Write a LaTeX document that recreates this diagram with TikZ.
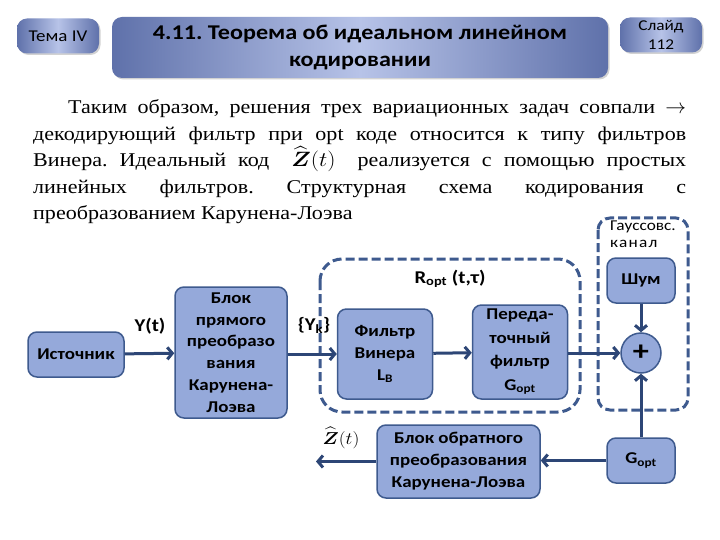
\documentclass[tikz,border=0pt]{standalone}
\usepackage{fontspec}
\usepackage{amsmath,amsbsy,graphicx}
\setmainfont[FakeStretch=1.13]{Liberation Serif}
\newfontfamily\carl[FakeStretch=1.15]{Carlito}
\usetikzlibrary{arrows.meta,shadows}
\definecolor{boxfill}{HTML}{95A9DA}
\definecolor{boxdraw}{HTML}{3E5A8E}
\definecolor{arr}{HTML}{2D4676}
\definecolor{hdark}{HTML}{5F71AA}
\definecolor{hlight}{HTML}{B7C3E8}
\frenchspacing
\newcommand{\zhat}{\scalebox{1.12}[1]{$\widehat{\boldsymbol{Z}}(t)$}}
\tikzset{
  blk/.style={draw=boxdraw, fill=boxfill, line width=1.5pt, rounded corners=9pt,
    font=\carl\bfseries\fontsize{16.5}{21.8}\selectfont, align=center, inner sep=1pt},
  conn/.style={draw=arr, line width=3pt, -{Straight Barb[length=5pt,width=12pt]}},
  grp/.style={draw=boxdraw, line width=3pt, dash pattern=on 9pt off 4pt},
  hdr/.style={rounded corners=10pt, left color=hdark, right color=hdark, middle color=hlight,
    drop shadow={shadow xshift=1.5pt,shadow yshift=-1.5pt,fill=black!35},
    align=center, inner sep=0pt},
  lbl/.style={font=\carl\bfseries\fontsize{18}{20}\selectfont, inner sep=0pt},
  body/.style={anchor=base west, inner sep=0pt, font=\fontsize{19.5}{26}\selectfont}
}
\begin{document}
\begin{tikzpicture}[x=1pt,y=-1pt]
\useasboundingbox[fill=white] (0,0) rectangle (720,540);
% header
\node[hdr, minimum width=82pt, minimum height=35pt, font=\carl\fontsize{16.5}{18}\selectfont] (tema) at (58,36) {Тема IV};
\node[hdr, minimum width=496pt, minimum height=61pt, font=\carl\bfseries\fontsize{21}{27}\selectfont] (title) at (360,47.5) {4.11. Теорема об идеальном линейном\\кодировании};
\node[hdr, minimum width=82pt, minimum height=35pt, font=\carl\fontsize{15}{19}\selectfont] (slide) at (661,35) {Слайд\\112};
% body text
\node[body] (l1) at (68,114) {\makebox[618pt][s]{Таким образом, решения трех вариационных задач совпали $\rightarrow$}};
\node[body] (l2) at (33,141) {\makebox[653pt][s]{декодирующий фильтр при opt коде относится к типу фильтров}};
\node[body] (l3) at (33,167) {\makebox[653pt][s]{Винера. Идеальный код \hspace{10pt}\zhat\hspace{10pt} реализуется с помощью простых}};
\node[body] (l4) at (33,194) {\makebox[653pt][s]{линейных фильтров. Структурная схема кодирования с}};
\node[body] (l5) at (33,220) {преобразованием Карунена-Лоэва};
% groups
\draw[grp, rounded corners=12pt] (598,218) rectangle (688,410);
\node[anchor=north west, align=left, inner sep=0pt, font=\carl\fontsize{15}{17}\selectfont] (gk) at (610,221) {Гауссовс.\\\addfontfeature{LetterSpace=8}канал};
\draw[grp, rounded corners=22pt] (320,259) rectangle (580,412);
\node[lbl] (ropt) at (450,279) {R\textsubscript{opt} (t,τ)};
% blocks
\node[blk, minimum width=96pt, minimum height=45pt] (src) at (76,354.5) {Источник};
\node[blk, minimum width=112pt, minimum height=131pt] (kl) at (231,352.5) {Блок\\прямого\\преобразо\\вания\\Карунена-\\Лоэва};
\node[blk, minimum width=95pt, minimum height=90pt] (wf) at (385,354) {Фильтр\\Винера\\L\textsubscript{В}};
\node[blk, minimum width=95pt, minimum height=94pt, font=\carl\bfseries\fontsize{16.5}{23.5}\selectfont] (tf) at (520,352) {Переда-\\точный\\фильтр\\G\textsubscript{opt}};
\node[blk, minimum width=68pt, minimum height=45pt] (noise) at (641,280.5) {Шум};
\node[blk, circle, minimum size=40pt, inner sep=0pt, font=\carl\bfseries\fontsize{28}{28}\selectfont] (sum) at (641,353) {+};
\node[blk, minimum width=68pt, minimum height=45pt] (g2) at (641,460.5) {G\textsubscript{opt}};
\node[blk, minimum width=163pt, minimum height=73pt, font=\carl\bfseries\fontsize{16.5}{22}\selectfont] (inv) at (458.5,461.5) {Блок обратного\\преобразования\\Карунена-Лоэва};
\coordinate (out) at (316,461.5);
% labels
\node[lbl] (yt) at (150,326) {Y(t)};
\node[lbl] (yk) at (314,325) {\{Y\textsubscript{k}\}};
\node[inner sep=0pt, font=\fontsize{18}{20}\selectfont] (zt) at (341,438) {\zhat};
% connectors
\draw[conn] (src) -- (kl);
\draw[conn] (kl.east |- wf.west) -- (wf.west);
\draw[conn] (wf) -- (tf);
\draw[conn] (tf.east |- sum.west) -- (sum.west);
\draw[conn] (noise) -- (sum);
\draw[conn] (g2) -- (sum);
\draw[conn] (g2.west) -- (g2.west -| inv.east);
\draw[conn] (inv.west) -- (out);
\end{tikzpicture}
\end{document}
